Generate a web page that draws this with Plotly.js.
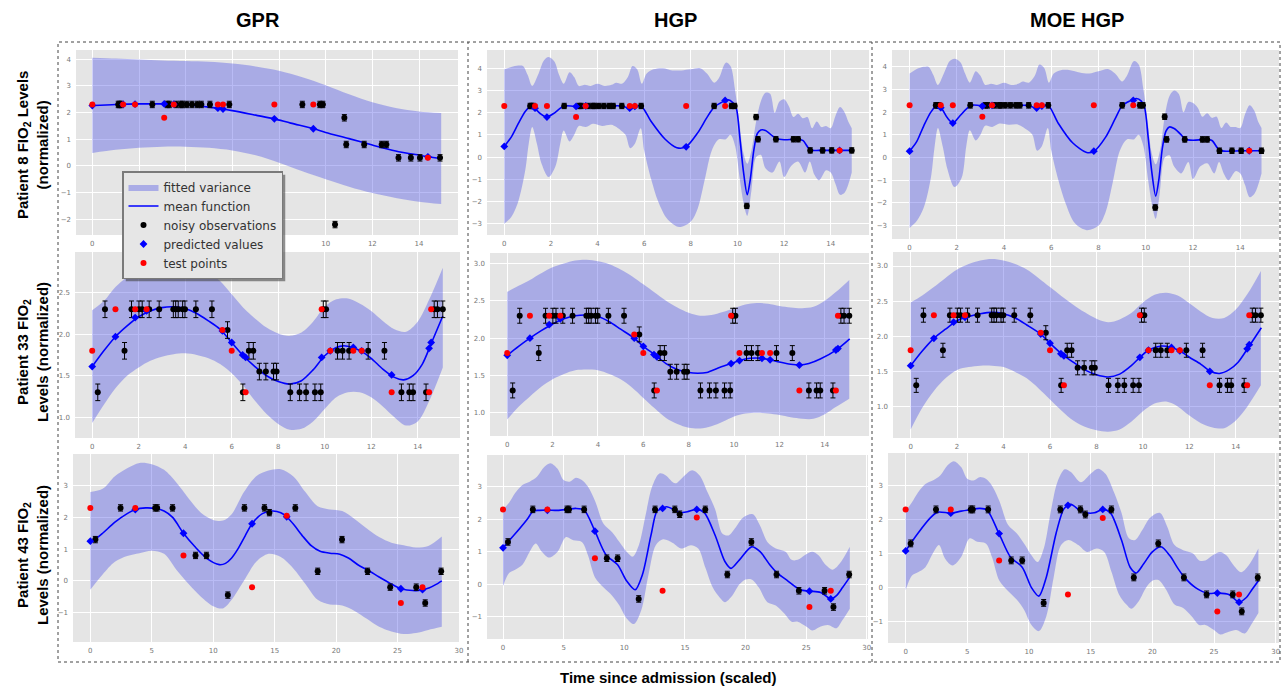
<!DOCTYPE html>
<html><head><meta charset="utf-8">
<script src="https://cdn.plot.ly/plotly-3.0.1.min.js"></script>
<style>html,body{margin:0;padding:0;background:#fff}#chart{width:1282px;height:689px}</style>
</head><body><div id="chart"></div>
<script>
// ---------- Tick values ----------
const xTicks15 = [0,2,4,6,8,10,12,14];
const xTicks30 = [0,5,10,15,20,25,30];

// ---------- Patient 8 (row 1) ----------
const p8_obsX = [1.11,1.17,1.24,2.57,3.21,3.3,3.6,3.8,3.86,4.05,4.27,4.5,4.67,5.04,5.87,9.0,9.75,9.88,10.4,10.8,10.88,11.65,12.4,12.6,13.12,13.65,14.04,14.9];
const p8_obsY = [2.3,2.3,2.3,2.3,2.3,2.3,2.3,2.3,2.3,2.3,2.3,2.3,2.3,2.3,2.3,2.3,2.3,2.3,-2.2,1.8,0.8,0.8,0.8,0.8,0.3,0.3,0.3,0.3];
const p8_testX = [0,1.32,1.83,3.08,3.49,5.38,5.6,7.8,9.47,14.38];
const p8_testY = [2.3,2.3,2.3,1.8,2.3,2.3,2.3,2.3,2.3,0.3];

const p8_gpr_predY = [2.26,2.3,2.31,2.32,2.31,2.16,2.13,1.76,1.39,0.34];
const p8_gpr_meanX = [0,1,2,3,3.5,4,4.5,5,5.5,6,7,7.8,8.5,9.5,10,11,12,13,14,14.4,14.95];
const p8_gpr_meanY = [2.26,2.3,2.32,2.32,2.31,2.29,2.25,2.2,2.14,2.07,1.9,1.76,1.6,1.39,1.25,1.02,0.78,0.56,0.4,0.34,0.27];
const p8_gpr_bandX = [0,1,2,3,4,5,6,7,8,9,10,11,12,13,14,14.95];
const p8_gpr_up = [4.05,4.02,3.98,3.95,3.93,3.9,3.83,3.72,3.56,3.32,3.02,2.68,2.38,2.17,2.04,1.98];
const p8_gpr_lo = [0.48,0.6,0.68,0.72,0.72,0.68,0.58,0.4,0.12,-0.2,-0.5,-0.78,-1.02,-1.2,-1.34,-1.43];

const p8_hgp_predY = [0.48,2.2,1.8,2.28,2.3,2.2,2.28,0.46,2.55,0.3];
const p8_hgp_meanX = [0,0.3,0.6,0.9,1.15,1.3,1.55,1.81,2.1,2.56,3.0,3.5,4,4.5,5.0,5.37,5.6,5.87,6.3,6.9,7.4,7.79,8.3,8.7,9.0,9.3,9.6,9.8,9.95,10.1,10.25,10.42,10.55,10.7,10.85,11.0,11.2,11.5,11.65,12.0,12.5,12.8,13.12,13.5,14,14.4,14.9];
const p8_hgp_meanY = [0.48,0.9,1.5,2.05,2.3,2.2,1.95,1.8,1.95,2.3,2.29,2.3,2.3,2.3,2.3,2.2,2.28,2.3,1.6,0.8,0.42,0.46,1.1,1.8,2.25,2.45,2.58,2.45,2.2,0.9,-0.6,-1.7,-1.0,0.3,1.05,1.22,1.2,0.95,0.85,0.78,0.8,0.75,0.32,0.3,0.3,0.3,0.3];
const p8_hgp_upX = [0,0.3,0.6,0.8,1.0,1.2,1.45,1.7,1.9,2.15,2.35,2.55,2.8,3.0,3.2,3.45,3.7,4.0,4.3,4.6,4.8,5.05,5.3,5.5,5.7,5.9,6.1,6.4,6.8,7.2,7.6,8.0,8.4,8.7,9.0,9.2,9.5,9.7,9.9,10.1,10.25,10.42,10.6,10.8,11.0,11.2,11.4,11.6,11.8,12.0,12.2,12.4,12.6,12.8,13.0,13.2,13.4,13.6,13.8,14.0,14.2,14.4,14.6,14.75,14.9];
const p8_hgp_up = [3.95,4.05,4.12,4.1,3.7,3.2,3.7,4.35,4.5,4.3,3.7,3.3,3.82,3.6,3.2,3.25,3.2,3.3,3.2,3.25,3.35,3.3,3.6,4.1,3.95,3.3,3.75,3.95,4.0,3.9,3.9,3.95,4.0,3.75,3.35,3.55,4.25,4.1,3.0,1.4,0.2,-0.3,0.3,1.6,2.5,2.9,2.85,2.0,2.5,2.6,2.3,1.8,1.95,1.75,1.8,1.3,1.6,1.35,1.4,1.3,1.85,2.25,2.0,1.6,1.3];
const p8_hgp_loX = [0,0.3,0.6,0.9,1.05,1.2,1.4,1.6,1.9,2.2,2.4,2.55,2.8,3.0,3.2,3.5,3.8,4.2,4.6,5.0,5.2,5.4,5.6,5.85,6.0,6.3,6.6,7.0,7.5,8.0,8.3,8.6,8.9,9.2,9.5,9.7,9.9,10.1,10.25,10.42,10.6,10.8,11.0,11.2,11.5,11.8,12.0,12.3,12.6,12.9,13.1,13.3,13.5,13.8,14.0,14.2,14.4,14.6,14.9];
const p8_hgp_lo = [-3.0,-2.7,-2.0,-0.6,0.6,1.35,0.6,-0.3,-0.9,-0.4,0.6,1.2,0.7,1.0,1.4,1.35,1.5,1.4,1.45,1.2,1.0,0.4,0.6,1.3,0.3,-1.0,-2.0,-2.8,-3.15,-2.9,-2.3,-1.0,0.3,0.8,0.8,1.0,0.5,-1.0,-2.0,-2.65,-1.5,0.0,0.1,-0.5,-0.7,-0.2,-0.9,-0.4,-0.2,-0.7,-0.2,-0.8,-1.05,-0.6,-0.7,-1.2,-1.7,-1.6,-0.7];

const p8_moe_predY = [0.28,2.2,1.52,2.27,2.3,2.18,2.27,0.28,2.52,0.3];
const p8_moe_meanX = [0,0.3,0.6,0.9,1.15,1.33,1.6,1.84,2.1,2.6,3.0,3.5,4,4.5,5.0,5.37,5.6,5.87,6.3,6.9,7.5,7.81,8.3,8.7,9.0,9.3,9.6,9.8,9.95,10.1,10.25,10.42,10.55,10.7,10.85,11.0,11.2,11.5,11.65,12.0,12.5,12.8,13.12,13.5,14,14.4,14.95];
const p8_moe_meanY = [0.28,0.7,1.4,2.0,2.3,2.2,1.75,1.52,1.8,2.3,2.29,2.3,2.3,2.3,2.3,2.18,2.27,2.3,1.5,0.65,0.22,0.28,0.9,1.7,2.28,2.48,2.6,2.5,2.2,0.9,-0.6,-1.7,-1.0,0.4,1.15,1.35,1.28,1.0,0.82,0.76,0.8,0.75,0.32,0.28,0.3,0.3,0.3];
const p8_moe_up = [3.7,3.9,4.0,4.0,3.65,3.2,3.7,4.25,4.35,4.2,3.7,3.3,3.8,3.6,3.2,3.25,3.2,3.3,3.2,3.25,3.35,3.3,3.6,4.1,3.95,3.3,3.7,3.85,3.85,3.75,3.7,3.8,3.9,3.7,3.35,3.6,4.25,4.1,3.0,1.4,0.2,-0.3,0.3,1.8,2.7,2.95,2.8,2.0,2.45,2.4,2.2,1.8,1.95,1.75,1.8,1.3,1.55,1.35,1.35,1.3,1.9,2.3,2.05,1.6,1.3];
const p8_moe_lo = [-3.1,-2.8,-2.2,-0.9,0.4,1.3,0.5,-0.5,-1.3,-0.9,0.5,1.2,0.75,1.0,1.4,1.35,1.5,1.45,1.45,1.2,1.0,0.3,0.5,1.3,0.3,-1.0,-2.0,-2.9,-3.2,-3.0,-2.4,-1.1,0.3,0.8,0.8,1.0,0.5,-1.0,-2.0,-2.7,-1.5,0.0,0.1,-0.4,-0.7,-0.2,-0.95,-0.4,-0.25,-0.7,-0.2,-0.7,-1.0,-0.6,-0.7,-1.2,-1.75,-1.6,-0.7];

// ---------- Patient 33 (row 2) ----------
const p33_obsX = [0.24,0.55,1.39,1.69,2.01,2.15,2.45,2.88,3.49,3.59,3.7,3.89,3.99,4.46,5.15,5.82,6.48,6.74,6.93,7.19,7.47,7.8,7.93,8.52,8.92,9.2,9.58,9.83,9.94,10.06,10.55,10.77,11.05,11.87,12.57,13.3,13.64,13.8,14.36,14.71,14.85,15.08];
const p33_obsY = [1.3,2.3,1.8,2.3,2.3,2.3,2.3,2.3,2.3,2.3,2.3,2.3,2.3,2.3,2.3,2.05,1.3,1.8,1.8,1.55,1.55,1.55,1.55,1.3,1.3,1.3,1.3,1.3,2.3,2.3,1.8,1.8,1.8,1.8,1.8,1.3,1.3,1.3,1.3,2.3,2.3,2.3];
const p33_testX = [0,1.0,1.85,2.34,5.6,6.0,6.6,9.87,10.24,11.23,11.59,12.88,14.49,14.58];
const p33_testY = [1.8,2.3,2.3,2.3,2.05,1.8,1.3,2.3,1.8,1.8,1.8,1.3,1.3,2.3];
const p33_predX = [0,1.0,1.85,2.34,5.6,6.0,6.47,6.6,9.87,10.24,11.23,11.59,12.88,14.49,14.58];
const p33_gpr_predY = [1.61,1.97,2.2,2.28,2.04,1.9,1.75,1.72,1.72,1.8,1.84,1.8,1.51,1.83,1.9];
const p33_hgp_predY = [1.77,2.0,2.18,2.26,2.0,1.89,1.78,1.75,1.66,1.7,1.73,1.71,1.64,1.84,1.86];
const p33_moe_predY = [1.58,1.97,2.2,2.27,2.03,1.9,1.75,1.72,1.7,1.8,1.84,1.79,1.5,1.82,1.88];

const p33_gpr_meanX = [0,0.5,1,1.5,2,2.5,3,3.5,4,4.5,5,5.5,6,6.5,7,7.5,8,8.5,9,9.5,10,10.5,10.8,11.2,11.6,12,12.5,13,13.4,13.8,14.2,14.6,15.08];
const p33_gpr_meanY = [1.61,1.8,1.97,2.1,2.21,2.28,2.32,2.33,2.31,2.25,2.16,2.06,1.9,1.74,1.61,1.5,1.43,1.4,1.44,1.57,1.74,1.84,1.86,1.84,1.79,1.71,1.58,1.48,1.45,1.5,1.64,1.9,2.22];
const p33_hgp_meanX = [0,0.5,1,1.5,2,2.5,3,3.5,4,4.5,5,5.6,6,6.5,7,7.5,8,8.4,8.8,9.3,9.87,10.24,10.7,11.23,11.6,12,12.5,12.9,13.3,13.8,14.5,15.1];
const p33_hgp_meanY = [1.77,1.89,2.0,2.1,2.19,2.26,2.3,2.31,2.29,2.22,2.12,2.0,1.89,1.78,1.66,1.58,1.54,1.53,1.54,1.6,1.66,1.7,1.73,1.73,1.71,1.68,1.65,1.64,1.66,1.72,1.84,1.99];
const p33_moe_meanX = [0,0.5,1,1.5,2,2.5,3,3.5,4,4.5,5,5.6,6,6.5,7,7.5,8,8.5,9,9.5,9.87,10.24,10.8,11.23,11.6,12,12.5,12.9,13.3,13.7,14.1,14.5,15.1];
const p33_moe_meanY = [1.58,1.79,1.97,2.1,2.22,2.28,2.32,2.34,2.32,2.26,2.16,2.03,1.9,1.75,1.63,1.52,1.45,1.42,1.46,1.58,1.7,1.8,1.86,1.84,1.79,1.7,1.6,1.5,1.47,1.52,1.63,1.82,2.12];

const p33_bandX = [0,0.5,1,1.5,2,2.5,3,3.5,4,4.5,5,5.5,6,6.5,7,7.5,8,8.5,9,9.5,10,10.5,11,11.5,12,12.5,13,13.5,14,14.5,15.08];
const p33_gpr_up = [2.29,2.4,2.57,2.69,2.8,2.87,2.9,2.91,2.89,2.83,2.74,2.64,2.48,2.32,2.19,2.08,2.01,1.98,2.02,2.15,2.33,2.42,2.43,2.37,2.28,2.16,2.06,2.03,2.15,2.42,2.8];
const p33_gpr_lo = [0.93,1.15,1.35,1.5,1.6,1.68,1.73,1.76,1.77,1.75,1.71,1.64,1.53,1.38,1.2,1.04,0.92,0.85,0.86,0.95,1.1,1.24,1.3,1.3,1.24,1.13,1.0,0.9,0.95,1.2,1.6];
const p33_hgp_up = [2.62,2.7,2.78,2.87,2.95,3.0,3.04,3.05,3.03,2.99,2.92,2.83,2.72,2.61,2.5,2.41,2.34,2.3,2.31,2.35,2.4,2.45,2.47,2.46,2.43,2.41,2.4,2.42,2.5,2.62,2.78];
const p33_hgp_lo = [0.91,1.08,1.22,1.35,1.45,1.52,1.57,1.58,1.57,1.52,1.45,1.34,1.2,1.06,0.93,0.85,0.8,0.79,0.82,0.88,0.95,0.99,1.0,0.99,0.97,0.94,0.92,0.92,0.98,1.08,1.19];
const p33_moe_up = [2.48,2.58,2.7,2.83,2.95,3.03,3.08,3.1,3.08,3.03,2.95,2.83,2.7,2.57,2.45,2.34,2.25,2.2,2.24,2.33,2.48,2.59,2.62,2.58,2.47,2.35,2.26,2.26,2.38,2.6,2.93];
const p33_moe_lo = [0.67,0.98,1.22,1.4,1.52,1.56,1.58,1.58,1.56,1.49,1.4,1.26,1.1,0.94,0.8,0.71,0.66,0.64,0.67,0.78,0.93,1.04,1.07,1.0,0.87,0.76,0.7,0.69,0.8,1.0,1.3];

// ---------- Patient 43 (row 3) ----------
const p43_obsX = [0.41,2.46,5.28,5.44,6.69,8.56,9.45,11.19,12.54,14.17,14.57,16.68,18.5,20.48,22.56,24.4,26.52,27.25,28.55];
const p43_obsY = [1.3,2.3,2.3,2.3,2.3,0.8,0.8,-0.45,2.3,2.3,2.15,2.3,0.3,1.3,0.3,-0.2,-0.2,-0.7,0.3];
const p43_testX = [0,3.66,7.58,13.16,15.98,25.27,27.03];
const p43_testY = [2.3,2.3,0.8,-0.2,2.05,-0.7,-0.2];
const p43_gpr_predY = [1.25,2.25,1.5,1.8,2.02,-0.25,-0.28];
const p43_hgp_predY = [1.12,2.27,1.63,2.33,2.3,-0.21,-0.45];
const p43_moe_predY = [1.08,2.19,1.59,2.42,2.3,-0.16,-0.43];

const p43_gpr_meanX = [0,0.41,1,2,3,3.66,4.5,5.3,6,6.7,7.58,8.5,9.5,10.5,11,11.5,12,12.6,13.16,14,14.8,15.5,15.98,16.6,17.3,18,18.7,19.5,20.3,21,21.8,22.56,23.5,24.4,25.27,26,26.5,27.03,27.6,28.1,28.6];
const p43_gpr_meanY = [1.25,1.32,1.5,1.85,2.12,2.25,2.3,2.28,2.2,2.0,1.5,1.08,0.7,0.51,0.55,0.72,1.0,1.42,1.8,2.12,2.2,2.15,2.02,1.75,1.4,1.1,0.93,0.87,0.84,0.72,0.5,0.34,0.12,-0.08,-0.25,-0.3,-0.31,-0.28,-0.22,-0.12,0.0];
const p43_gpr_bandX = [0,1,2,3,4,5,6,7,8,9,10,10.8,11.5,12.5,13.5,14.5,15.5,16.5,17.5,18.5,19.5,20.5,21.5,22.5,23.5,24.5,25.5,26.5,27.5,28.6];
const p43_gpr_up = [2.8,2.9,3.3,3.55,3.72,3.68,3.5,3.1,2.6,2.15,1.92,1.9,2.1,2.8,3.3,3.48,3.52,3.3,2.8,2.35,2.25,2.2,1.95,1.65,1.38,1.2,1.12,1.05,1.1,1.4];
const p43_gpr_lo = [-0.28,0.2,0.6,0.78,0.87,0.95,0.85,0.35,-0.1,-0.5,-0.8,-0.87,-0.6,0.0,0.6,0.85,0.75,0.4,-0.1,-0.6,-0.75,-0.78,-0.95,-1.2,-1.45,-1.6,-1.68,-1.65,-1.55,-1.45];

const p43_hgp_meanX = [0,0.41,1,2,2.5,3,3.66,4.5,5.3,6,6.7,7.58,8.5,9.45,10.2,10.9,11.5,12.2,12.7,13.16,13.5,14.2,14.6,15.2,15.98,16.6,17.5,18.3,18.8,19.5,20.5,21.2,22,22.6,23.5,24.5,25.27,26.2,27.03,27.5,28,28.6];
const p43_hgp_meanY = [1.12,1.3,1.55,2.0,2.25,2.27,2.28,2.27,2.3,2.33,2.28,1.63,0.9,0.6,0.1,-0.17,0.3,1.5,2.25,2.33,2.38,2.27,2.2,2.23,2.3,2.2,1.5,0.7,0.49,0.75,1.15,1.0,0.6,0.35,0.1,-0.17,-0.21,-0.25,-0.45,-0.35,-0.1,0.22];
const p43_moe_meanX = [0,0.41,1,2,2.6,3.66,4.5,5.3,6,6.6,7.58,8.5,9.45,10.2,10.8,11.4,12.2,12.8,13.16,13.4,14.2,14.6,15.3,15.98,16.6,17.5,18.2,18.7,19.3,20.0,20.7,21.4,22.1,22.6,23.5,24.5,25.27,26.2,27.03,27.6,28.1,28.6];
const p43_moe_meanY = [1.08,1.3,1.6,2.05,2.22,2.19,2.25,2.3,2.33,2.28,1.58,0.9,0.6,0.0,-0.25,0.3,1.6,2.3,2.42,2.45,2.25,2.2,2.2,2.3,2.2,1.4,0.6,0.43,0.7,1.05,1.2,0.95,0.55,0.3,0.0,-0.17,-0.16,-0.2,-0.43,-0.3,-0.05,0.2];

const p43_upX = [0,0.5,1,1.6,2.2,2.8,3.4,3.9,4.5,5.0,5.5,6.0,6.5,7.0,7.6,8.3,9.0,9.6,10.2,10.7,11.2,11.8,12.3,12.9,13.4,14.2,15.0,15.6,16.2,16.9,17.5,18.1,18.6,19.2,19.8,20.6,21.2,21.8,22.5,23.3,23.8,24.3,24.9,25.5,26.0,26.6,27.2,27.8,28.6];
const p43_loX = [0,0.5,1,1.6,2.2,2.7,3.2,3.8,4.5,5.2,5.8,6.5,7.0,7.6,8.3,9.0,9.6,10.2,10.8,11.4,12.0,12.6,13.2,14.0,14.7,15.5,16.1,16.7,17.3,17.9,18.3,18.9,19.5,20.0,20.5,21.1,21.8,22.5,23.2,23.8,24.3,25.0,25.5,26.2,26.8,27.5,28.0,28.6];
const p43_hgp_up = [2.3,2.5,2.8,3.05,3.15,3.3,3.6,3.72,3.55,3.2,3.15,3.27,3.2,3.0,2.55,1.85,1.6,1.3,1.0,0.85,1.2,2.2,3.0,3.4,3.35,3.1,3.35,3.5,3.35,2.8,2.3,1.55,1.5,1.75,2.05,2.15,1.8,1.3,1.1,1.0,0.75,0.75,0.9,1.0,0.9,0.6,0.45,0.65,1.15];
const p43_hgp_lo = [-0.05,0.35,0.45,0.6,1.0,1.25,1.0,0.82,1.0,1.45,1.35,1.3,0.9,0.2,-0.1,-0.35,-0.65,-1.05,-1.22,-0.8,0.3,1.2,1.38,1.27,1.1,1.2,1.1,0.5,-0.1,-0.42,-0.55,-0.35,0.0,0.15,0.15,-0.1,-0.55,-0.65,-0.9,-1.15,-1.15,-1.3,-1.42,-1.3,-1.25,-1.35,-1.1,-0.75];
const p43_moe_up = [2.25,2.5,2.8,3.05,3.15,3.3,3.6,3.72,3.55,3.2,3.15,3.25,3.2,3.0,2.55,1.85,1.6,1.3,0.95,0.75,1.15,2.3,3.1,3.48,3.4,3.1,3.35,3.5,3.35,2.8,2.2,1.45,1.4,1.7,2.05,2.2,1.8,1.25,1.1,1.0,0.8,0.8,0.95,1.05,0.95,0.65,0.45,0.65,1.15];
const p43_moe_lo = [-0.08,0.35,0.45,0.6,1.0,1.25,0.85,0.65,0.9,1.45,1.35,1.3,0.9,0.2,-0.1,-0.35,-0.65,-1.1,-1.28,-0.85,0.3,1.25,1.4,1.25,1.05,1.15,1.05,0.45,-0.2,-0.5,-0.62,-0.4,0.0,0.2,0.22,-0.05,-0.5,-0.6,-0.85,-1.1,-1.1,-1.25,-1.38,-1.3,-1.25,-1.35,-1.1,-0.75];

// ---------- Text ----------
const colTitles = ['GPR','HGP','MOE HGP'];
const rowLabels = ['Patient 8 FIO<sub>2</sub> Levels<br>(normalized)','Patient 33 FIO<sub>2</sub><br>Levels (normalized)','Patient 43 FIO<sub>2</sub><br>Levels (normalized)'];
const xTitle = 'Time since admission (scaled)';
const legendNames = ['fitted variance','mean function','noisy observations','predicted values','test points'];

// ---------- Panel layout (pixel boxes) ----------
const W = 1282, H = 689;
const panels = [
 {L:76,R:458,T:50,B:235, xr:[-0.70,15.67], yr:[-2.59,4.34], xt:xTicks15, yt:[-2,-1,0,1,2,3,4], yf:'d', err:0.12,
  obsX:p8_obsX, obsY:p8_obsY, testX:p8_testX, testY:p8_testY, predX:p8_testX, predY:p8_gpr_predY,
  mX:p8_gpr_meanX, mY:p8_gpr_meanY, uX:p8_gpr_bandX, u:p8_gpr_up, lX:p8_gpr_bandX, l:p8_gpr_lo},
 {L:487,R:869,T:50,B:235, xr:[-0.74,15.64], yr:[-3.51,4.82], xt:xTicks15, yt:[-3,-2,-1,0,1,2,3,4], yf:'d', err:0.12,
  obsX:p8_obsX, obsY:p8_obsY, testX:p8_testX, testY:p8_testY, predX:p8_testX, predY:p8_hgp_predY,
  mX:p8_hgp_meanX, mY:p8_hgp_meanY, uX:p8_hgp_upX, u:p8_hgp_up, lX:p8_hgp_loX, l:p8_hgp_lo},
 {L:892,R:1279,T:50,B:239, xr:[-0.745,15.64], yr:[-3.59,4.74], xt:xTicks15, yt:[-3,-2,-1,0,1,2,3,4], yf:'d', err:0.12,
  obsX:p8_obsX, obsY:p8_obsY, testX:p8_testX, testY:p8_testY, predX:p8_testX, predY:p8_moe_predY,
  mX:p8_moe_meanX, mY:p8_moe_meanY, uX:p8_hgp_upX, u:p8_moe_up, lX:p8_hgp_loX, l:p8_moe_lo},
 {L:75,R:460,T:252,B:438, xr:[-0.74,15.82], yr:[0.75,2.99], xt:xTicks15, yt:[1,1.5,2,2.5], yf:'.1f', err:0.1,
  obsX:p33_obsX, obsY:p33_obsY, testX:p33_testX, testY:p33_testY, predX:p33_predX, predY:p33_gpr_predY,
  mX:p33_gpr_meanX, mY:p33_gpr_meanY, uX:p33_bandX, u:p33_gpr_up, lX:p33_bandX, l:p33_gpr_lo},
 {L:490,R:869,T:253,B:436, xr:[-0.76,15.95], yr:[0.69,3.14], xt:xTicks15, yt:[1,1.5,2,2.5,3], yf:'.1f', err:0.1,
  obsX:p33_obsX, obsY:p33_obsY, testX:p33_testX, testY:p33_testY, predX:p33_predX, predY:p33_hgp_predY,
  mX:p33_hgp_meanX, mY:p33_hgp_meanY, uX:p33_bandX, u:p33_hgp_up, lX:p33_bandX, l:p33_hgp_lo},
 {L:893,R:1279,T:252,B:438, xr:[-0.76,15.86], yr:[0.55,3.2], xt:xTicks15, yt:[1,1.5,2,2.5,3], yf:'.1f', err:0.1,
  obsX:p33_obsX, obsY:p33_obsY, testX:p33_testX, testY:p33_testY, predX:p33_predX, predY:p33_moe_predY,
  mX:p33_moe_meanX, mY:p33_moe_meanY, uX:p33_bandX, u:p33_moe_up, lX:p33_bandX, l:p33_moe_lo},
 {L:73,R:459,T:454,B:642, xr:[-1.41,30.0], yr:[-1.93,4.0], xt:xTicks30, yt:[-1,0,1,2,3], yf:'d', err:0.1,
  obsX:p43_obsX, obsY:p43_obsY, testX:p43_testX, testY:p43_testY, predX:p43_testX, predY:p43_gpr_predY,
  mX:p43_gpr_meanX, mY:p43_gpr_meanY, uX:p43_gpr_bandX, u:p43_gpr_up, lX:p43_gpr_bandX, l:p43_gpr_lo},
 {L:487,R:868,T:455,B:639, xr:[-1.32,30.1], yr:[-1.68,3.97], xt:xTicks30, yt:[-1,0,1,2,3], yf:'d', err:0.1,
  obsX:p43_obsX, obsY:p43_obsY, testX:p43_testX, testY:p43_testY, predX:p43_testX, predY:p43_hgp_predY,
  mX:p43_hgp_meanX, mY:p43_hgp_meanY, uX:p43_upX, u:p43_hgp_up, lX:p43_loX, l:p43_hgp_lo},
 {L:888,R:1279,T:453,B:643, xr:[-1.43,30.27], yr:[-1.63,3.96], xt:xTicks30, yt:[-1,0,1,2,3], yf:'d', err:0.1,
  obsX:p43_obsX, obsY:p43_obsY, testX:p43_testX, testY:p43_testY, predX:p43_testX, predY:p43_moe_predY,
  mX:p43_moe_meanX, mY:p43_moe_meanY, uX:p43_upX, u:p43_moe_up, lX:p43_loX, l:p43_moe_lo}
];

const BAND = 'rgba(80,85,230,0.40)';
const traces = [];
const layout = {
  width: W, height: H, margin:{l:0,r:0,t:0,b:0},
  paper_bgcolor:'#ffffff', plot_bgcolor:'#E5E5E5',
  hovermode:false, showlegend:true,
  font:{family:'DejaVu Sans', color:'#333'},
  legend:{x:122/W, y:1-171/H, xanchor:'left', yanchor:'top', bgcolor:'#E6E6E6',
          bordercolor:'#7a7a7a', borderwidth:1.5, font:{family:'DejaVu Sans', size:12, color:'#333'},
          tracegroupgap:0, itemwidth:30},
  annotations:[], shapes:[]
};

panels.forEach((p, i) => {
  const k = i === 0 ? '' : String(i+1);
  const xa = 'x'+k, ya = 'y'+k;
  const first = i === 0;
  layout['xaxis'+k] = {domain:[p.L/W, p.R/W], range:p.xr, anchor:ya, tickvals:p.xt,
    showgrid:true, gridcolor:'#ffffff', gridwidth:1, zeroline:false, showline:false, ticks:'',
    tickfont:{family:'DejaVu Sans', size:7, color:'#777'}, ticklabelstandoff:3, fixedrange:true};
  layout['yaxis'+k] = {domain:[1-p.B/H, 1-p.T/H], range:p.yr, anchor:xa, tickvals:p.yt,
    tickformat:p.yf, showgrid:true, gridcolor:'#ffffff', gridwidth:1, zeroline:false,
    showline:false, ticks:'', tickfont:{family:'DejaVu Sans', size:7, color:'#777'}, ticklabelstandoff:4, fixedrange:true};
  traces.push({type:'scatter', mode:'lines', x:p.lX, y:p.l, xaxis:xa, yaxis:ya,
    line:{width:0, shape:'spline', smoothing:0.9}, showlegend:false, legendgroup:'band', hoverinfo:'skip'});
  traces.push({type:'scatter', mode:'lines', x:p.uX, y:p.u, xaxis:xa, yaxis:ya, fill:'tonexty', fillcolor:BAND,
    line:{width:0, shape:'spline', smoothing:0.9, color:BAND}, name:legendNames[0], showlegend:first, legendgroup:'band'});
  traces.push({type:'scatter', mode:'lines', x:p.mX, y:p.mY, xaxis:xa, yaxis:ya,
    line:{color:'#0000FF', width:1.6, shape:'spline', smoothing:0.8}, name:legendNames[1], showlegend:first});
  traces.push({type:'scatter', mode:'markers', x:p.obsX, y:p.obsY, xaxis:xa, yaxis:ya,
    marker:{color:'#000000', size:6}, error_y:{type:'constant', value:p.err, color:'#000000', thickness:1, width:2.5},
    name:legendNames[2], showlegend:first});
  traces.push({type:'scatter', mode:'markers', x:p.predX, y:p.predY, xaxis:xa, yaxis:ya,
    marker:{color:'#0000FF', size:6, symbol:'diamond'}, name:legendNames[3], showlegend:first});
  traces.push({type:'scatter', mode:'markers', x:p.testX, y:p.testY, xaxis:xa, yaxis:ya,
    marker:{color:'#FF0000', size:6}, name:legendNames[4], showlegend:first});
});

// column titles
const colX = [258, 676, 1077];
colTitles.forEach((t, i) => layout.annotations.push({text:'<b>'+t+'</b>', x:colX[i]/W, y:1-20/H, xref:'paper', yref:'paper',
  xanchor:'center', yanchor:'middle', showarrow:false, font:{family:'Liberation Sans', size:20, color:'#000'}}));
// row labels
const rowY = [145, 352, 555];
rowLabels.forEach((t, i) => layout.annotations.push({text:'<b>'+t+'</b>', x:32/W, y:1-rowY[i]/H, xref:'paper', yref:'paper',
  xanchor:'center', yanchor:'middle', textangle:-90, showarrow:false, align:'center',
  font:{family:'Liberation Sans', size:15, color:'#000'}}));
// x title
layout.annotations.push({text:'<b>'+xTitle+'</b>', x:668/W, y:1-677/H, xref:'paper', yref:'paper',
  xanchor:'center', yanchor:'middle', showarrow:false, font:{family:'Liberation Sans', size:15, color:'#000'}});

// dotted frame
const dl = {color:'#444', width:1, dash:'dot'};
layout.shapes.push({type:'rect', xref:'paper', yref:'paper', x0:58/W, x1:1280/W, y0:1-662/H, y1:1-42/H, line:dl, layer:'above'});
[468, 872].forEach(px => layout.shapes.push({type:'line', xref:'paper', yref:'paper', x0:px/W, x1:px/W, y0:1-662/H, y1:1-42/H, line:dl, layer:'above'}));

Plotly.newPlot('chart', traces, layout, {staticPlot:true, displayModeBar:false}).then(() => {
  // legend drop shadow sized from the rendered legend box
  const bg = document.querySelector('.legend .bg');
  if (bg) {
    const r = bg.getBoundingClientRect();
    const c = document.getElementById('chart').getBoundingClientRect();
    const x0 = r.left - c.left + 3, x1 = r.right - c.left + 3, y0 = r.top - c.top + 3, y1 = r.bottom - c.top + 3;
    Plotly.relayout('chart', {shapes: layout.shapes.concat([{type:'rect', xref:'paper', yref:'paper',
      x0:x0/W, x1:x1/W, y0:1-y1/H, y1:1-y0/H, fillcolor:'rgba(70,70,70,0.6)', line:{width:0}, layer:'above'}])});
  }
});
</script></body></html>
